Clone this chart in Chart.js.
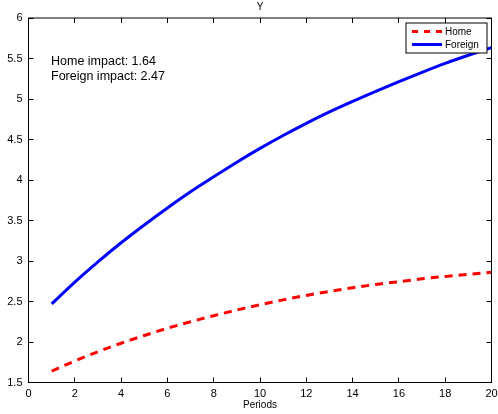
<!DOCTYPE html>
<html>
<head>
<meta charset="utf-8">
<script src="https://cdn.jsdelivr.net/npm/chart.js@4/dist/chart.umd.min.js"></script>
<style>
html,body{margin:0;padding:0;background:#fff;}
#wrap{width:498px;height:414px;}
</style>
</head>
<body>
<div id="wrap"><canvas id="c" width="498" height="414"></canvas></div>
<script>
// ---- data ----
const periods = [1,2,3,4,5,6,7,8,9,10,11,12,13,14,15,16,17,18,19,20];
const homeValues = [1.64,1.765,1.88,1.985,2.08,2.17,2.25,2.325,2.395,2.46,2.52,2.575,2.625,2.67,2.71,2.745,2.78,2.81,2.835,2.86];
const foreignValues = [2.47,2.74,2.99,3.225,3.445,3.655,3.855,4.04,4.22,4.39,4.55,4.70,4.84,4.97,5.095,5.215,5.33,5.44,5.54,5.635];
const xTickValues = [0,2,4,6,8,10,12,14,16,18,20];
const yTickValues = [1.5,2,2.5,3,3.5,4,4.5,5,5.5,6];
const seriesNames = ['Home','Foreign'];
const chartTitle = 'Y';
const xAxisTitle = 'Periods';
const noteLines = ['Home impact: 1.64','Foreign impact: 2.47'];

const FONT = "'Liberation Sans', Arial, Helvetica, sans-serif";

const matlabPlugin = {
  id: 'matlabBox',
  afterDatasetsDraw(chart) {
    const {ctx, chartArea, scales} = chart;
    const {left, right, top, bottom} = chartArea;
    const x = scales.x, y = scales.y;
    const tl = 5;
    ctx.save();
    ctx.strokeStyle = '#000';
    ctx.lineWidth = 1;
    ctx.beginPath();
    x.ticks.forEach(t => {
      const px = Math.round(x.getPixelForValue(t.value) - 0.5) + 0.5;
      ctx.moveTo(px, bottom); ctx.lineTo(px, bottom - tl);
      ctx.moveTo(px, top); ctx.lineTo(px, top + tl);
    });
    y.ticks.forEach(t => {
      const py = Math.round(y.getPixelForValue(t.value) - 0.5) + 0.5;
      ctx.moveTo(left, py); ctx.lineTo(left + tl, py);
      ctx.moveTo(right, py); ctx.lineTo(right - tl, py);
    });
    ctx.stroke();
    ctx.strokeRect(left, top, right - left, bottom - top);
    ctx.restore();
  },
  afterDraw(chart) {
    const {ctx, chartArea} = chart;
    const {left, right, top} = chartArea;
    ctx.save();
    // title centred over the axes box
    ctx.fillStyle = '#000';
    ctx.font = '10px ' + FONT;
    ctx.textAlign = 'center';
    ctx.textBaseline = 'alphabetic';
    ctx.fillText(chartTitle, (left + right) / 2, top - 8);
    // annotation text
    ctx.font = '12.5px ' + FONT;
    ctx.textAlign = 'left';
    ctx.textBaseline = 'alphabetic';
    noteLines.forEach((s, i) => ctx.fillText(s, left + 22.5, top + 46.5 + i * 15));
    // legend
    const lx = right - 85.5, ly = top + 5, lw = 81, lh = 30;
    ctx.fillStyle = '#fff';
    ctx.fillRect(lx, ly, lw, lh);
    ctx.strokeStyle = '#000';
    ctx.lineWidth = 1;
    ctx.strokeRect(lx, ly, lw, lh);
    ctx.font = '10px ' + FONT;
    ctx.textBaseline = 'middle';
    chart.data.datasets.forEach((ds, i) => {
      const ry = ly + 8.5 + i * 13;
      ctx.strokeStyle = ds.borderColor;
      ctx.lineWidth = 3;
      ctx.setLineDash(ds.borderDash && ds.borderDash.length ? [6, 6] : []);
      ctx.beginPath();
      ctx.moveTo(lx + 6, ry); ctx.lineTo(lx + 36, ry);
      ctx.stroke();
      ctx.setLineDash([]);
      ctx.fillStyle = '#000';
      ctx.fillText(ds.label, lx + 39, ry + 0.5);
    });
    ctx.restore();
  }
};

new Chart(document.getElementById('c'), {
  type: 'line',
  data: {
    datasets: [
      {
        label: seriesNames[0],
        data: periods.map((p, i) => ({x: p, y: homeValues[i]})),
        borderColor: '#ff0000',
        borderWidth: 3,
        borderDash: [8, 6],
        pointRadius: 0,
        cubicInterpolationMode: 'monotone',
        fill: false
      },
      {
        label: seriesNames[1],
        data: periods.map((p, i) => ({x: p, y: foreignValues[i]})),
        borderColor: '#0000ff',
        borderWidth: 3,
        pointRadius: 0,
        cubicInterpolationMode: 'monotone',
        fill: false
      }
    ]
  },
  options: {
    responsive: false,
    animation: false,
    devicePixelRatio: 1,
    layout: { padding: { top: 18, right: 6.5, bottom: 0, left: 0 } },
    plugins: {
      legend: { display: false },
      tooltip: { enabled: false },
      title: { display: false }
    },
    scales: {
      x: {
        type: 'linear',
        min: 0, max: 20,
        afterBuildTicks: s => { s.ticks = xTickValues.map(v => ({value: v})); },
        afterFit: s => { s.height = 31.5; s.paddingLeft = 0; s.paddingRight = 0; },
        grid: { display: false, drawTicks: false },
        border: { display: false },
        ticks: {
          color: '#000',
          font: { family: FONT, size: 11 },
          padding: 5,
          maxRotation: 0,
          autoSkip: false
        },
        title: {
          display: true,
          text: xAxisTitle,
          color: '#000',
          font: { family: FONT, size: 10 },
          padding: { top: 0, bottom: 3 }
        }
      },
      y: {
        type: 'linear',
        min: 1.5, max: 6,
        afterBuildTicks: s => { s.ticks = yTickValues.map(v => ({value: v})); },
        afterFit: s => { s.width = 28.5; s.paddingTop = 0; s.paddingBottom = 0; },
        grid: { display: false, drawTicks: false },
        border: { display: false },
        ticks: {
          color: '#000',
          font: { family: FONT, size: 11 },
          padding: 6,
          autoSkip: false,
          callback: v => String(v)
        }
      }
    }
  },
  plugins: [matlabPlugin]
});
</script>
</body>
</html>
